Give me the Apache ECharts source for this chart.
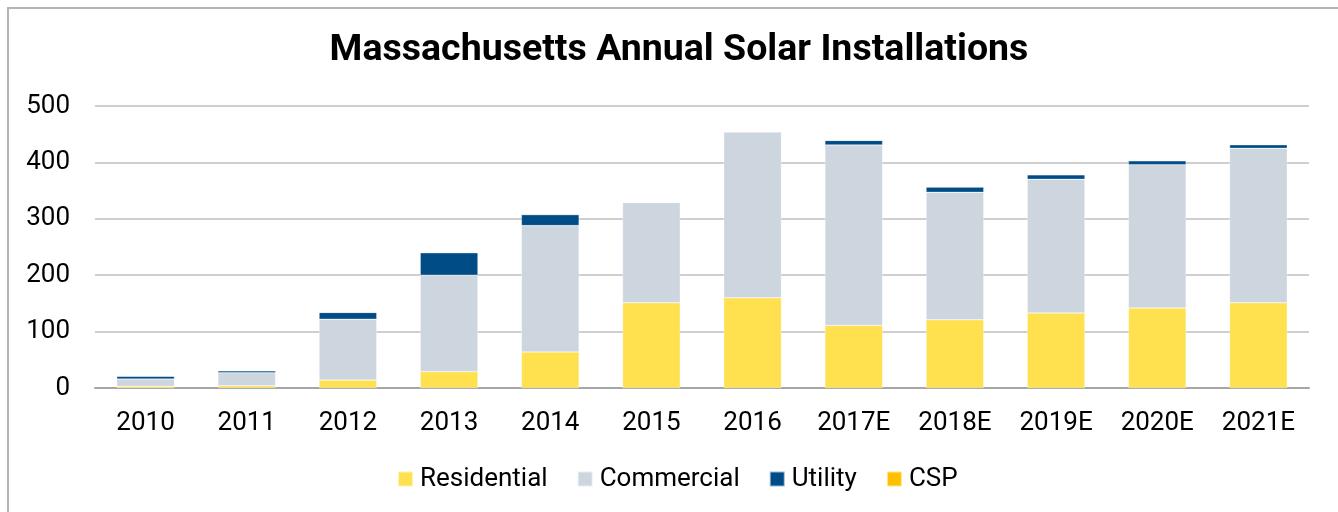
<!DOCTYPE html>
<html><head><meta charset="utf-8">
<script src="https://cdn.jsdelivr.net/npm/echarts@6/dist/echarts.min.js"></script>
<style>
html,body{margin:0;padding:0;background:#fff;overflow:hidden;}
#frame{position:absolute;left:7px;top:7px;width:1340px;height:520px;border:2px solid #b4b4b4;box-sizing:border-box;}
#c{position:absolute;left:0;top:0;width:1338px;height:512px;}
</style></head>
<body><div id="frame"></div><div id="c"></div>
<script>
const categories = ['2010','2011','2012','2013','2014','2015','2016','2017E','2018E','2019E','2020E','2021E'];
const residential = [3, 4, 14, 29, 64, 151, 160, 111, 121, 133, 142, 151];
const commercial = [13, 23, 108, 171, 224, 178, 294, 320, 226, 237, 254, 274];
const utility = [5, 3.5, 12, 40, 19.5, 0.5, 1, 8, 9.5, 8, 7, 6.5];
const csp = [0, 0, 0, 0, 0, 0, 0, 0, 0, 0, 0, 0];

const chart = echarts.init(document.getElementById('c'), null, {renderer:'canvas'});
const font = 'Roboto';
function bar(name, data, color){
  return {name, type:'bar', stack:'total', data, barWidth:'57%',
    itemStyle:{color, borderColor:'rgba(255,255,255,0.6)', borderWidth:0.5}};
}
chart.setOption({
  animation:false,
  title:{text:'Massachusetts Annual Solar Installations', left:674, textAlign:'center', top:27,
    textStyle:{fontFamily:font, fontSize:37.5, fontWeight:'bold', color:'#000'}},
  grid:{left:95, right:29, top:106, bottom:124, containLabel:false},
  legend:{bottom:15, left:392, itemWidth:15, itemHeight:15, itemGap:29,
    icon:'rect', textStyle:{fontFamily:font, fontSize:26, color:'#000', padding:[0,0,0,2]},
    data:['Residential','Commercial','Utility','CSP']},
  xAxis:{type:'category', data:categories,
    axisLine:{lineStyle:{color:'#a6a6a6', width:2}}, axisTick:{show:false},
    axisLabel:{fontFamily:font, fontSize:26, color:'#000', margin:22}},
  yAxis:{type:'value', min:0, max:500, interval:100,
    axisLine:{show:false}, axisTick:{show:false},
    splitLine:{lineStyle:{color:'#bfbfbf', width:1.5}},
    axisLabel:{fontFamily:font, fontSize:26, color:'#000', margin:25}},
  series:[
    bar('Residential', residential, '#FFE04F'),
    bar('Commercial', commercial, '#CDD5DF'),
    bar('Utility', utility, '#004C87'),
    bar('CSP', csp, '#FFC000')
  ]
});
</script></body></html>
